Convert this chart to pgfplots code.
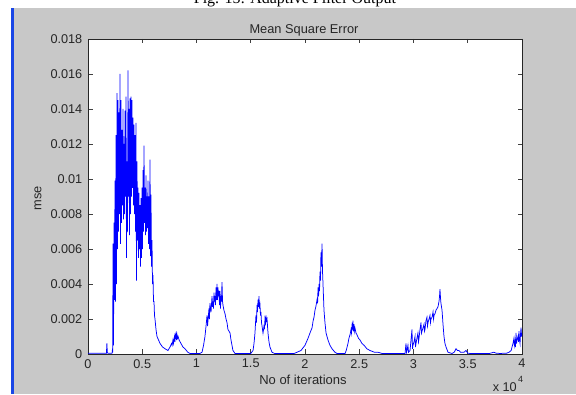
\documentclass[border=0pt]{standalone}
\usepackage{fontspec}
\setmainfont{Liberation Sans}
\newfontfamily\timesfont{Liberation Serif}
\usepackage{pgfplots}
\pgfplotsset{compat=1.18}
\definecolor{figgray}{RGB}{200,200,200}
\definecolor{mblue}{RGB}{0,0,255}
\definecolor{edgeblue}{RGB}{25,70,230}
\begin{document}
\begin{tikzpicture}[x=1pt,y=1pt]
\useasboundingbox (0,0) rectangle (576,394);
\clip (0,0) rectangle (576,394);
\fill[white] (0,0) rectangle (576,394);
\fill[figgray] (11,0) rectangle (576,386);
\fill[edgeblue] (11,0) rectangle (13.5,386);
\node[font=\timesfont\fontsize{16}{16}\selectfont, anchor=base, inner sep=0pt] at (295,390.3) {Fig. 15: Adaptive Filter Output};
\begin{axis}[at={(88pt,40pt)}, anchor=south west, scale only axis,
  width=434pt, height=315pt,
  xmin=0, xmax=4, ymin=0, ymax=0.018,
  axis background/.style={fill=white},
  axis line style={black!85, line width=0.8pt},
  tick align=inside, major tick length=4.5pt,
  tick style={black!75, line width=0.6pt},
  xtick={0,0.5,1,1.5,2,2.5,3,3.5,4},
  xticklabels={0,0.5,1,1.5,2,2.5,3,3.5,4},
  ytick={0,0.002,0.004,0.006,0.008,0.01,0.012,0.014,0.016,0.018},
  yticklabels={0,0.002,0.004,0.006,0.008,0.01,0.012,0.014,0.016,0.018},
  scaled ticks=false,
  /pgf/number format/assume math mode=true,
  ticklabel style={font=\fontsize{12.7}{13}\selectfont, text=black!85},
  xticklabel style={inner sep=0pt, anchor=north, yshift=-5pt},
  yticklabel style={inner sep=0pt, anchor=east, xshift=-5.5pt},
  clip=true]
\addplot[mblue, line width=0.75pt] coordinates {
(0,0.00005) (0.170,0.00005) (0.174,0.0006) (0.178,0.0001) (0.182,0.00005) (0.200,0.00005) (0.222,0.00005) (0.226,0.0003)(0.228,0.0001)
(0.2304,0.0063)(0.2350,0.0005)
(0.2396,0.0075)(0.2442,0.0031)
(0.2488,0.0099)(0.2535,0.0030)
(0.2581,0.0125)(0.2627,0.0040)
(0.2673,0.0149)(0.2719,0.0060)
(0.2765,0.0145)(0.2811,0.0070)
(0.2857,0.0138)(0.2903,0.0080)
(0.2949,0.0160)(0.2995,0.0063)
(0.3041,0.0145)(0.3088,0.0075)
(0.3134,0.0128)(0.3180,0.0085)
(0.3226,0.0140)(0.3272,0.0077)
(0.3318,0.0120)(0.3364,0.0080)
(0.3410,0.0139)(0.3456,0.0090)
(0.3502,0.0147)(0.3548,0.0055)
(0.3594,0.0110)(0.3641,0.0070)
(0.3687,0.0162)(0.3733,0.0090)
(0.3779,0.0140)(0.3825,0.0068)
(0.3871,0.0146)(0.3917,0.0080)
(0.3963,0.0147)(0.4009,0.0090)
(0.4055,0.0145)(0.4101,0.0095)
(0.4147,0.0135)(0.4194,0.0085)
(0.4240,0.0131)(0.4286,0.0080)
(0.4332,0.0125)(0.4378,0.0070)
(0.4424,0.0132)(0.4470,0.0042)
(0.4516,0.0110)(0.4562,0.0065)
(0.4608,0.0095)(0.4654,0.0055)
(0.4700,0.0092)(0.4747,0.0060)
(0.4793,0.0085)(0.4839,0.0050)
(0.4885,0.0089)(0.4931,0.0055)
(0.4977,0.0095)(0.5023,0.0060)
(0.5069,0.0105)(0.5115,0.0070)
(0.5161,0.0119)(0.5207,0.0075)
(0.5253,0.0095)(0.5300,0.0068)
(0.5346,0.0102)(0.5392,0.0070)
(0.5438,0.0090)(0.5484,0.0072)
(0.5530,0.0099)(0.5576,0.0063)
(0.5622,0.0090)(0.5668,0.0060)
(0.5714,0.0111)(0.5760,0.0056)
(0.5806,0.0091)(0.5853,0.0050)
(0.5899,0.0065)(0.5945,0.0040)
(0.5991,0.0045)(0.6037,0.0030)
(0.6083,0.0030)(0.6129,0.0022)
(0.6175,0.0020)(0.6267,0.0014)(0.636,0.0010)(0.650,0.0008)(0.664,0.0006)(0.687,0.0004)(0.710,0.0003)(0.737,0.0002)(0.756,0.0004)
(0.770,0.0006)(0.775,0.0005)(0.783,0.0008)(0.788,0.0006)(0.797,0.0010)(0.801,0.0007)(0.806,0.0011)(0.811,0.0012)(0.815,0.0008)(0.820,0.0011)(0.825,0.0009)(0.830,0.0010)(0.840,0.0008)(0.857,0.0006)(0.875,0.0004)(0.894,0.0003)(0.92,0.0001)(0.94,0.00003)
(1.03,0.00003)(1.051,0.0001)(1.065,0.0005)(1.078,0.0010)(1.088,0.0016)(1.097,0.0022)(1.102,0.0016)(1.115,0.0026)(1.119,0.0020)(1.124,0.0029)(1.134,0.0024)(1.143,0.0033)(1.148,0.0027)(1.152,0.0030)(1.157,0.0026)(1.161,0.0035)(1.166,0.0030)(1.171,0.0033)(1.175,0.0028)(1.180,0.0038)(1.185,0.0031)(1.189,0.0040)(1.194,0.0031)(1.198,0.0038)(1.203,0.0033)(1.207,0.0036)(1.212,0.0028)(1.217,0.0036)(1.221,0.0026)(1.226,0.0033)(1.230,0.0030)(1.235,0.0041)(1.240,0.0030)(1.244,0.0028)(1.253,0.0025)(1.263,0.0023)(1.272,0.0020)(1.281,0.0018)(1.290,0.0014)(1.300,0.0013)(1.309,0.0012)(1.318,0.0008)(1.327,0.0005)(1.336,0.0002)(1.355,0.00003)
(1.50,0.00003)(1.521,0.0002)(1.530,0.0006)(1.539,0.0012)(1.548,0.0022)(1.553,0.0018)(1.558,0.0028)(1.562,0.0024)(1.567,0.0031)(1.571,0.0027)(1.576,0.0033)(1.580,0.0026)(1.585,0.0028)(1.590,0.0022)(1.594,0.0024)(1.599,0.0018)(1.604,0.0016)(1.613,0.0012)(1.618,0.0014)(1.622,0.0016)(1.627,0.0015)(1.631,0.0020)(1.636,0.0018)(1.640,0.0022)(1.645,0.0019)(1.650,0.0020)(1.659,0.0012)(1.668,0.0007)(1.677,0.0004)(1.696,0.0001)(1.72,0.00003)
(1.90,0.00003)(1.926,0.0001)(1.963,0.0002)(2.000,0.0005)(2.028,0.0009)(2.046,0.0012)(2.065,0.0015)(2.075,0.0019)(2.083,0.0021)(2.092,0.0025)(2.100,0.0027)(2.111,0.0031)(2.116,0.0029)(2.120,0.0038)(2.125,0.0033)(2.129,0.0040)(2.134,0.0036)(2.138,0.0047)(2.143,0.0042)(2.147,0.0058)(2.152,0.0050)(2.157,0.0063)(2.161,0.0048)(2.166,0.0040)(2.175,0.0025)(2.184,0.0018)(2.194,0.0012)(2.212,0.0008)(2.230,0.0005)(2.249,0.0003)(2.276,0.0001)(2.295,0.00003)
(2.369,0.00003)(2.380,0.0002)(2.396,0.0006)(2.405,0.0009)(2.415,0.0011)(2.424,0.0014)(2.428,0.0012)(2.433,0.0016)(2.437,0.0014)(2.442,0.0019)(2.446,0.0013)(2.451,0.0017)(2.455,0.0013)(2.460,0.0015)(2.470,0.0012)(2.479,0.0011)(2.493,0.0009)(2.507,0.0008)(2.525,0.0006)(2.544,0.0005)(2.570,0.0003)(2.599,0.0002)(2.640,0.0001)(2.673,0.0001)(2.71,0.00003)
(2.922,0.00003)(2.931,0.0006)(2.936,0.0001)(2.940,0.0002)(2.949,0.0005)(2.954,0.0001)(2.968,0.0002)(2.977,0.0008)(2.986,0.0014)(2.991,0.0003)(2.995,0.0005)(3.005,0.0007)(3.014,0.0010)(3.018,0.0004)(3.023,0.0006)(3.032,0.0009)(3.041,0.0012)(3.046,0.0007)(3.051,0.0009)(3.060,0.0014)(3.069,0.0018)(3.074,0.0012)(3.078,0.0013)(3.088,0.0015)(3.097,0.0017)(3.101,0.0013)(3.106,0.0014)(3.115,0.0019)(3.124,0.0021)(3.129,0.0016)(3.134,0.0018)(3.143,0.0020)(3.152,0.0022)(3.157,0.0018)(3.161,0.0020)(3.171,0.0021)(3.180,0.0024)(3.185,0.0020)(3.189,0.0022)(3.198,0.0023)(3.207,0.0025)(3.217,0.0026)(3.226,0.0027)(3.235,0.0030)(3.240,0.0033)(3.244,0.0037)(3.249,0.0032)(3.253,0.0029)(3.263,0.0025)(3.272,0.0017)(3.281,0.0010)(3.290,0.0006)(3.300,0.0004)(3.318,0.0001)(3.355,0.00003)
(3.375,0.0001)(3.392,0.0003)(3.405,0.0002)(3.419,0.0002)(3.433,0.0001)(3.447,0.0001)(3.465,0.0001)(3.484,0.0002)(3.50,0.00005)(3.521,0.00003)(3.70,0.00003)(3.740,0.0001)(3.760,0.00005)(3.797,0.00003)(3.860,0.00005)(3.880,0.0001)(3.900,0.0002)(3.908,0.0004)(3.917,0.0006)(3.926,0.0009)(3.930,0.0005)(3.935,0.0007)(3.940,0.0004)(3.945,0.0012)(3.950,0.0006)(3.954,0.0008)(3.963,0.0010)(3.968,0.0007)(3.972,0.0013)(3.977,0.0008)(3.982,0.0006)(3.986,0.0011)(3.991,0.0015)(3.996,0.0010)(4.0,0.0012)
};
\end{axis}
\node[font=\fontsize{12.8}{13}\selectfont, text=black!85, inner sep=0pt, anchor=base] at (304,360.5) {Mean Square Error};
\node[font=\fontsize{12.8}{13}\selectfont, text=black!85, inner sep=0pt, rotate=90] at (38,196) {mse};
\node[font=\fontsize{13}{13}\selectfont, text=black!85, inner sep=0pt, anchor=base] at (303,10) {No of iterations};
\node[font=\fontsize{12.7}{13}\selectfont, text=black!85, inner sep=0pt, anchor=base east] at (517,2.2) {x 10};
\node[font=\fontsize{9}{9}\selectfont, text=black!85, inner sep=0pt, anchor=base west] at (517.8,11.5) {4};
\end{tikzpicture}
\end{document}
